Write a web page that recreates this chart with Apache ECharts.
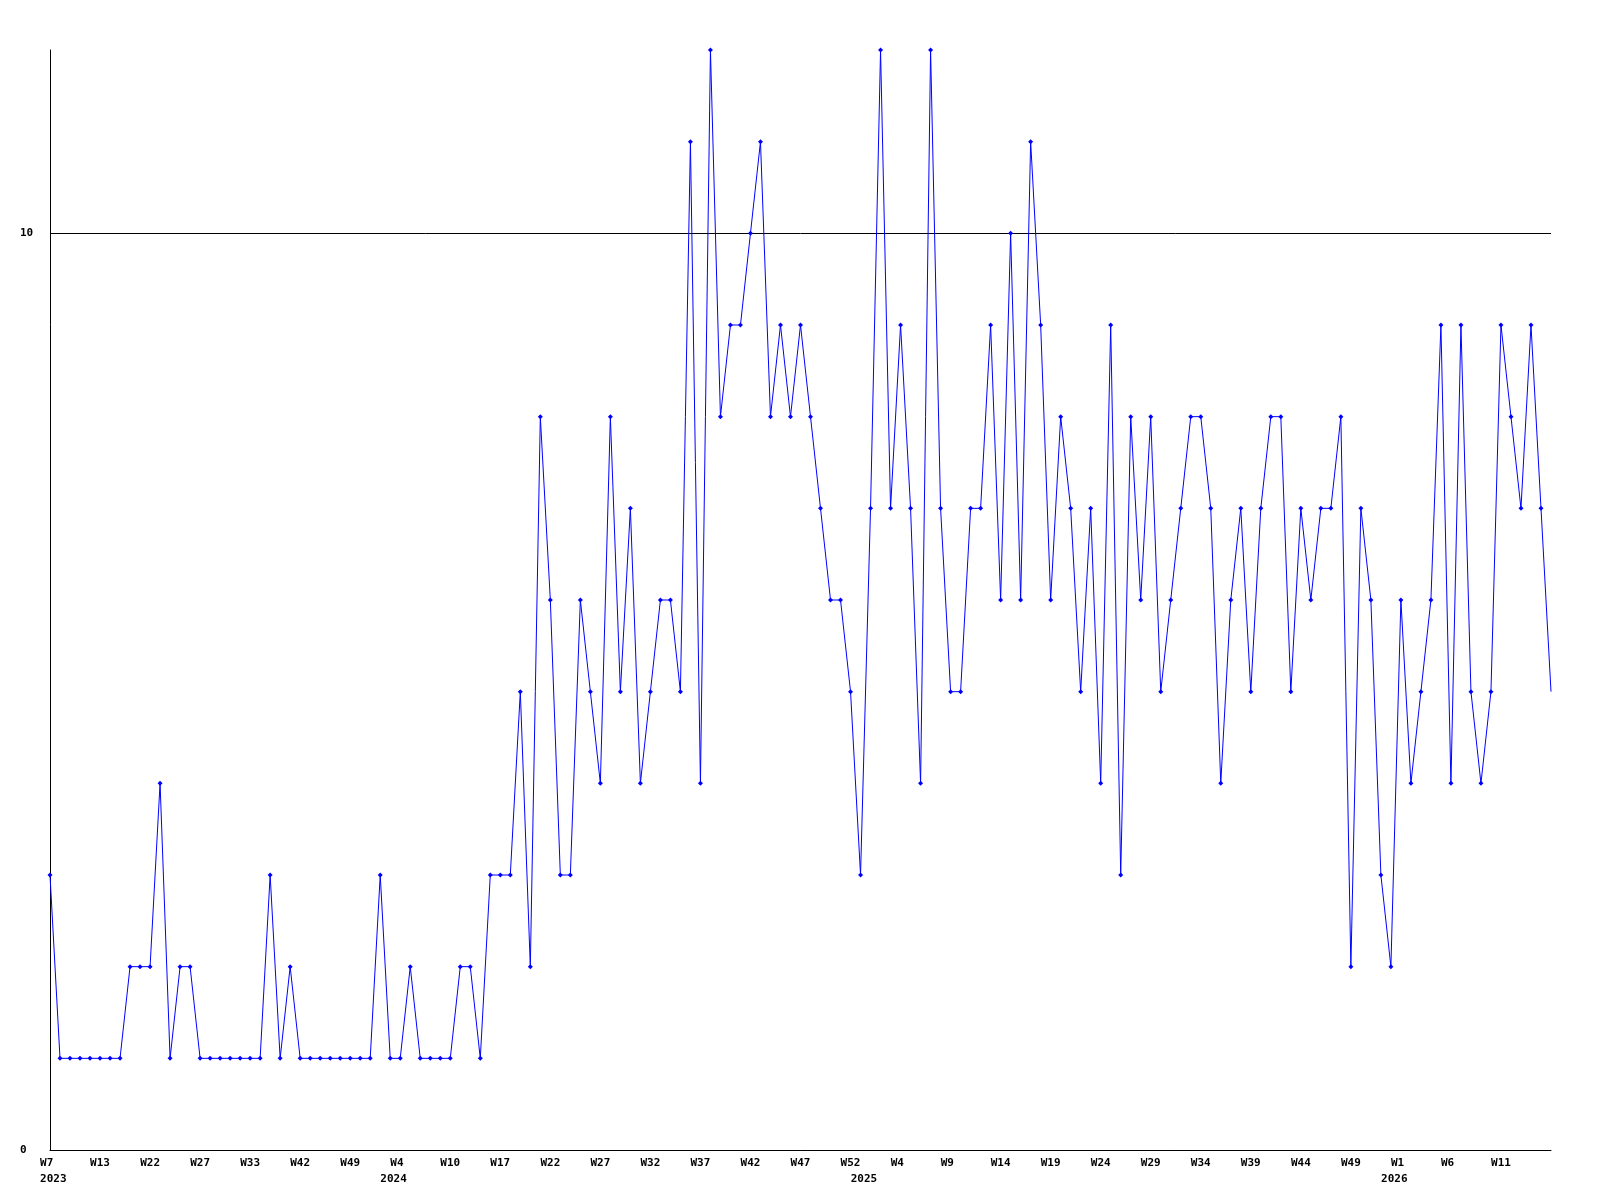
<!DOCTYPE html>
<html>
<head>
<meta charset="utf-8">
<script src="https://cdn.jsdelivr.net/npm/echarts@6/dist/echarts.min.js"></script>
<style>
  html, body { margin: 0; padding: 0; background: #fff; }
  #chart { width: 1600px; height: 1200px; }
</style>
</head>
<body>
<div id="chart"></div>
<script>
// week numbers of each point (2023 .. 2026)
const weekNo = [
  // 2023
  7, 8, 9, 10, 12, 13, 14, 16, 18, 20, 22, 23, 24, 25, 26, 27, 28, 29, 30, 31,
  33, 35, 36, 38, 40, 42, 43, 44, 46, 47, 49, 50, 51, 52,
  // 2024
  3, 4, 5, 6, 7, 8, 10, 11, 13, 14, 16, 17, 18, 19, 20, 21, 22, 23, 24, 25,
  26, 27, 28, 29, 30, 31, 32, 33, 34, 35, 36, 37, 38, 39, 40, 41, 42, 43, 44, 45,
  46, 47, 48, 49, 50, 51, 52, 53,
  // 2025
  1, 2, 3, 4, 5, 6, 7, 8, 9, 10, 11, 12, 13, 14, 15, 16, 17, 18, 19, 20,
  21, 22, 23, 24, 25, 26, 27, 28, 29, 30, 31, 32, 33, 34, 35, 36, 37, 38, 39, 40,
  41, 42, 43, 44, 45, 46, 47, 48, 49, 50, 51, 52, 53,
  // 2026
  1, 2, 3, 4, 5, 6, 7, 8, 9, 10, 11, 12, 13, 14, 15, 16
];

const values = [
  3, 1, 1, 1, 1, 1, 1, 1, 2, 2, 2, 4, 1, 2, 2, 1,
  1, 1, 1, 1, 1, 1, 3, 1, 2, 1, 1, 1, 1, 1, 1, 1, 1,
  3, 1, 1, 2, 1, 1, 1, 1, 2, 2, 1, 3, 3, 3, 5, 2, 8, 6, 3, 3,
  6, 5, 4, 8, 5, 7, 4, 5, 6, 6, 5, 11, 4, 12, 8, 9, 9, 10, 11, 8,
  9, 8, 9, 8, 7, 6, 6, 5, 3, 7, 12, 7, 9, 7, 4, 12, 7, 5, 5,
  7, 7, 9, 6, 10, 6, 11, 9, 6, 8, 7, 5, 7, 4, 9, 3, 8, 6, 8,
  5, 6, 7, 8, 8, 7, 4, 6, 7, 5, 7, 8, 8, 5, 7, 6, 7, 7, 8,
  2, 7, 6, 3, 2, 6, 4, 5, 6, 9, 4, 9, 5, 4, 5, 9, 8, 7, 9, 7, 5
];

// year captions: [category index, text]
const yearMarks = [[0, '2023'], [35, '2024'], [82, '2025'], [135, '2026']];

const categories = weekNo.map((w) => 'W' + w);
const yearAt = {};
yearMarks.forEach(([i, y]) => { yearAt[i] = y; });
const last = values.length - 1;

const labelFont = {
  fontFamily: 'DejaVu Sans Mono',
  fontWeight: 'bold',
  fontSize: 11,
  color: '#000'
};

const chart = echarts.init(document.getElementById('chart'));
chart.setOption({
  animation: false,
  backgroundColor: '#fff',
  grid: { left: 50, right: 49, top: 50, bottom: 50 },
  xAxis: [
    {
      type: 'category',
      data: categories,
      boundaryGap: false,
      axisLine: { lineStyle: { color: '#000', width: 1 } },
      axisTick: { show: false },
      axisLabel: Object.assign({
        interval: (i) => i % 5 === 0 && i < last,
        margin: 8,
        formatter: (v) => (v + '   ').slice(0, 3)
      }, labelFont)
    },
    {
      type: 'category',
      data: categories,
      position: 'bottom',
      boundaryGap: false,
      axisLine: { show: false },
      axisTick: { show: false },
      axisLabel: Object.assign({
        interval: (i) => yearAt[i] !== undefined,
        margin: 24,
        formatter: (v, i) => (i === 0 ? ' ' + yearAt[i] : yearAt[i] + '  ')
      }, labelFont)
    }
  ],
  yAxis: {
    type: 'value',
    min: 0,
    max: 12,
    interval: 10,
    axisLine: { show: true, lineStyle: { color: '#000', width: 1 } },
    axisTick: { show: false },
    splitLine: { show: true, showMaxLine: false, lineStyle: { color: '#000', width: 1 } },
    axisLabel: Object.assign({
      align: 'left',
      margin: 30,
      showMaxLabel: false,
      formatter: (v) => (v === 12 ? '' : String(v))
    }, labelFont)
  },
  series: [
    {
      type: 'line',
      xAxisIndex: 0,
      // the last point has no marker in the original
      data: values.map((v, i) => (i === last ? { value: v, symbol: 'none' } : v)),
      symbol: 'diamond',
      symbolSize: 5,
      showAllSymbol: true,
      lineStyle: { color: '#0000ff', width: 1 },
      itemStyle: { color: '#0000ff' }
    }
  ]
});
</script>
</body>
</html>
